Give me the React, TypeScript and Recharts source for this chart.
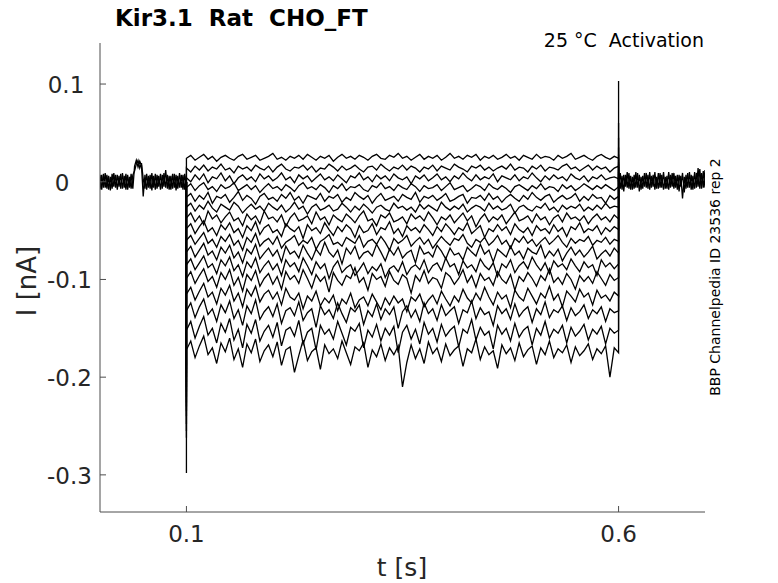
import { LineChart, Line, XAxis, YAxis } from 'recharts';

// all currents in pA, plotted in nA
const STEP_ON = 0.1;
const STEP_OFF = 0.6;
const BASE_DT = 0.002;

const xTicks = [0.1, 0.6];
const yTicks = [-0.3, -0.2, -0.1, 0, 0.1];

// holding current before the voltage step (t = 0 .. 0.1 s)
const preA = [
  7, -8, 8, -6, 7, -8, 5, -7, 9, -6, 7, -5, 8, -7, 6, -8, 7, -6, 8, -7,
  16, 22, 15, 21, 17, -15,
  7, -8, 6, -7, 9, -6, 8, -7, 6, -8, 7, -5, 12, -7, 6, -8, 8, -6, 7, -7, 9, -6, 7, -8, 6,
];
const preB = [
  -8, 7, -6, 9, -7, 6, -9, 8, -5, 7, -8, 6, -7, 9, -6, 8, -8, 5, -7, 7,
  11, 18, 22, 14, 19, 3,
  -7, 8, -6, 7, -9, 6, -8, 7, -5, 8, -7, 9, -6, 7, -8, 6, -7, 8, -9, 6, -6, 7, -8, 8, -5,
];

// tail current after the step (t = 0.6 .. 0.7 s)
const postA = [
  9, -7, 6, -10, 7, -6, 9, -8, 5, -7, 10, -6, 7, -8, 6, -5, 9, -7, 10, -6,
  7, -8, 5, -7, 9, -6, 10, -7, 6, -8, 7, -5, 9, -6, 7, -10, 6, -17, 5, -7,
  9, -6, 7, -8, 10, -6, 14, -7, 9, -6, 12,
];
const postB = [
  -6, 9, -8, 7, -5, 10, -7, 6, -8, 7, -6, 9, -10, 5, -7, 9, -6, 7, -8, 6,
  -5, 10, -7, 9, -6, 7, -8, 5, -7, 10, -6, 9, -7, 6, -8, 7, -5, 9, -11, 7,
  -6, 10, -8, 6, -7, 9, -5, 13, -7, 11, -6,
];

// capacitive peaks at step onset and offset, one per sweep
const onsetPeak = [-298, -262, -255, -248, -240, -235, -230, -226, -220, -215, -210, -205, -200, -196, -192, -188];
const offsetPeak = [103, 60, 45, 35, 28, 24, 20, 18, 15, 12, 10, 8, 6, 5, 4, 3];

// current during the step (t = 0.1 .. 0.6 s), one array per sweep
const sweeps = [
  [24, 27, 22, 25, 28, 23, 26, 21, 25, 27, 24, 22, 26, 28, 23, 25, 27, 22, 24, 26, 29, 23, 25, 22, 26, 24, 27, 23, 28, 25, 22, 26, 24, 27, 21, 25, 28, 24, 26, 23, 27, 25, 22, 26, 28, 24, 23, 27, 25, 29, 24, 26, 22, 25, 28, 23, 26, 24, 27, 22, 25, 29, 24, 26, 23, 27, 25, 28, 22, 26, 24, 27, 23, 25, 28, 24, 26, 22, 27, 25, 23, 28, 24, 26, 25, 22, 27, 24, 26, 29, 23, 25, 27, 24, 22, 26, 28, 25, 23, 26, 24],
  [14, 10, 16, 12, 17, 11, 15, 13, 18, 12, 14, 9, 16, 13, 15, 11, 17, 14, 12, 16, 10, 15, 18, 13, 11, 15, 14, 17, 12, 16, 10, 14, 13, 18, 15, 11, 16, 12, 14, 17, 13, 10, 15, 16, 12, 18, 14, 11, 15, 13, 17, 12, 16, 14, 10, 15, 13, 17, 11, 16, 14, 12, 18, 15, 13, 10, 16, 14, 17, 12, 15, 11, 14, 16, 13, 18, 12, 15, 14, 10, 16, 13, 17, 11, 15, 14, 12, 16, 18, 13, 15, 11, 14, 17, 12, 16, 13, 15, 10, 14, 16],
  [4, 0, 7, 2, 8, -1, 5, 3, 9, 1, 6, -2, 4, 7, 2, 5, 0, 8, 3, 6, 1, 4, 9, 2, 5, -1, 7, 3, 6, 0, 4, 8, 2, 5, 1, 7, 3, -1, 6, 4, 9, 2, 5, 0, 7, 3, 6, 1, 8, 4, 2, 5, -2, 6, 3, 7, 1, 4, 8, 2, 5, 0, 6, 3, 9, 4, 1, 7, 2, 5, 3, 8, 0, 6, 4, 2, 7, 1, 5, 3, 9, 4, 0, 6, 2, 7, 3, 5, 1, 8, 4, 2, 6, 0, 5, 3, 7, 2, 4, 5, 3],
  [-6, -2, -9, -4, -1, -8, -5, -10, -3, -7, -5, -1, -9, -6, -3, -8, -4, -11, -6, -2, -7, -5, -9, -3, -6, -10, -4, -1, -7, -5, -8, -3, -6, -11, -4, -7, -2, -9, -5, -6, -3, -8, -10, -4, -6, -1, -7, -5, -9, -3, -6, -8, -2, -5, -10, -4, -7, -6, -3, -9, -5, -1, -8, -6, -4, -10, -7, -3, -5, -9, -2, -6, -8, -4, -7, -11, -5, -3, -6, -9, -4, -7, -2, -8, -5, -6, -10, -3, -7, -4, -9, -6, -2, -5, -8, -4, -7, -3, -6, -9, -5],
  [-16, -12, -20, -14, -18, -11, -22, -15, -17, -13, -21, -16, -10, -19, -14, -17, -23, -15, -12, -18, -16, -20, -13, -17, -11, -19, -15, -22, -14, -16, -18, -12, -20, -15, -17, -13, -21, -16, -19, -11, -15, -18, -14, -22, -16, -12, -19, -17, -15, -20, -13, -16, -18, -11, -21, -15, -17, -14, -19, -16, -12, -20, -18, -15, -13, -22, -16, -17, -14, -19, -12, -18, -15, -21, -16, -13, -17, -20, -14, -18, -11, -16, -19, -15, -13, -21, -17, -14, -18, -16, -12, -20, -15, -19, -13, -17, -16, -22, -14, -18, -15],
  [-26, -22, -30, -24, -28, -20, -27, -31, -23, -26, -29, -21, -25, -32, -27, -23, -28, -25, -30, -22, -26, -29, -24, -31, -27, -21, -28, -25, -33, -26, -23, -29, -27, -24, -30, -28, -22, -26, -31, -25, -29, -23, -27, -32, -26, -24, -28, -30, -22, -27, -25, -29, -26, -31, -23, -28, -24, -27, -30, -21, -26, -29, -25, -28, -23, -31, -27, -24, -26, -30, -22, -28, -25, -29, -27, -23, -32, -26, -24, -28, -30, -25, -27, -22, -29, -26, -31, -24, -28, -25, -27, -23, -30, -26, -29, -24, -28, -22, -27, -25, -26],
  [-37, -32, -41, -35, -44, -30, -38, -34, -42, -36, -31, -40, -37, -45, -33, -39, -35, -43, -30, -38, -36, -41, -34, -46, -37, -32, -40, -38, -35, -43, -31, -39, -36, -44, -34, -38, -41, -33, -37, -42, -35, -30, -40, -38, -45, -34, -37, -32, -41, -39, -36, -43, -33, -38, -35, -40, -31, -37, -44, -36, -39, -34, -42, -37, -32, -40, -35, -46, -38, -33, -41, -36, -39, -34, -43, -37, -31, -40, -38, -35, -42, -33, -39, -36, -44, -37, -34, -41, -32, -38, -36, -40, -35, -43, -37, -33, -39, -36, -41, -34, -38],
  [-48, -43, -53, -46, -40, -51, -47, -55, -44, -49, -42, -52, -48, -57, -45, -50, -41, -54, -47, -44, -52, -49, -56, -43, -48, -51, -46, -58, -44, -50, -47, -53, -42, -49, -55, -46, -51, -44, -48, -57, -45, -52, -50, -43, -54, -47, -49, -41, -53, -48, -56, -45, -50, -47, -52, -44, -49, -55, -46, -51, -43, -48, -54, -47, -50, -42, -53, -49, -45, -57, -48, -51, -44, -50, -46, -54, -43, -49, -52, -47, -55, -45, -50, -48, -53, -44, -51, -47, -56, -46, -49, -42, -52, -48, -50, -45, -54, -47, -51, -46, -49],
  [-60, -55, -64, -58, -52, -63, -59, -67, -56, -61, -54, -65, -60, -70, -57, -62, -53, -66, -61, -58, -64, -56, -68, -62, -59, -55, -65, -60, -63, -57, -69, -61, -58, -54, -64, -62, -66, -57, -60, -63, -55, -67, -61, -59, -64, -56, -62, -70, -58, -63, -60, -55, -66, -61, -57, -64, -59, -68, -62, -56, -61, -65, -58, -60, -54, -63, -67, -59, -62, -57, -65, -61, -55, -64, -60, -68, -58, -62, -56, -63, -59, -66, -61, -57, -64, -60, -55, -62, -67, -58, -63, -59, -61, -56, -65, -60, -62, -57, -64, -59, -61],
  [-72, -66, -77, -70, -63, -75, -71, -80, -67, -73, -65, -78, -72, -83, -69, -74, -64, -79, -73, -68, -76, -70, -82, -66, -74, -71, -78, -65, -73, -80, -69, -75, -62, -72, -77, -70, -84, -68, -74, -66, -79, -73, -71, -76, -64, -72, -81, -69, -75, -67, -78, -73, -70, -83, -66, -74, -72, -77, -65, -71, -79, -68, -75, -73, -80, -67, -72, -76, -64, -74, -70, -82, -69, -73, -77, -66, -75, -71, -79, -68, -72, -74, -65, -78, -71, -76, -69, -81, -73, -67, -75, -70, -77, -72, -66, -79, -74, -70, -76, -68, -73],
  [-85, -79, -90, -83, -76, -88, -84, -94, -80, -86, -77, -91, -85, -97, -82, -88, -78, -93, -86, -81, -90, -84, -96, -80, -87, -83, -92, -78, -86, -95, -82, -89, -84, -99, -87, -81, -93, -88, -85, -96, -90, -83, -94, -87, -91, -84, -98, -89, -86, -92, -82, -95, -88, -85, -90, -80, -93, -86, -83, -91, -78, -87, -84, -95, -81, -88, -85, -92, -79, -86, -90, -83, -97, -84, -88, -80, -93, -86, -82, -89, -77, -85, -91, -83, -94, -81, -87, -84, -90, -79, -86, -92, -82, -88, -85, -96, -80, -87, -83, -89, -84],
  [-99, -92, -104, -96, -89, -102, -97, -108, -93, -100, -90, -106, -98, -112, -95, -101, -91, -107, -99, -94, -105, -97, -110, -92, -100, -96, -104, -90, -99, -109, -95, -102, -97, -113, -93, -101, -106, -96, -99, -88, -103, -98, -111, -94, -100, -97, -107, -92, -101, -105, -95, -99, -114, -96, -102, -91, -104, -98, -100, -109, -93, -97, -105, -99, -90, -103, -96, -108, -94, -101, -98, -106, -92, -100, -104, -95, -111, -97, -102, -93, -99, -107, -96, -101, -89, -103, -98, -105, -94, -100, -110, -96, -102, -97, -104, -92, -99, -106, -95, -101, -98],
  [-115, -108, -121, -112, -104, -118, -113, -125, -109, -116, -106, -122, -114, -128, -110, -117, -107, -123, -115, -111, -120, -113, -126, -109, -118, -121, -114, -130, -117, -122, -112, -127, -119, -124, -116, -132, -120, -125, -114, -129, -121, -118, -127, -115, -123, -131, -119, -126, -117, -124, -120, -133, -118, -122, -115, -128, -121, -116, -125, -112, -120, -127, -117, -123, -110, -119, -124, -114, -121, -108, -118, -126, -113, -120, -116, -129, -111, -118, -122, -109, -117, -125, -114, -119, -107, -121, -115, -128, -112, -117, -123, -110, -118, -114, -126, -111, -119, -116, -122, -113, -117],
  [-132, -124, -139, -128, -120, -136, -130, -143, -126, -134, -122, -140, -131, -147, -127, -135, -121, -141, -133, -128, -138, -125, -145, -132, -129, -137, -123, -142, -134, -130, -149, -127, -136, -131, -140, -124, -135, -144, -129, -133, -126, -146, -132, -138, -125, -141, -130, -136, -128, -150, -133, -127, -139, -131, -143, -124, -135, -130, -142, -126, -137, -132, -128, -145, -131, -134, -122, -140, -129, -136, -133, -147, -127, -135, -130, -141, -125, -138, -132, -128, -144, -130, -136, -123, -139, -131, -134, -127, -142, -129, -137, -133, -126, -140, -131, -135, -128, -143, -130, -134, -132],
  [-152, -143, -160, -148, -138, -157, -150, -165, -145, -154, -140, -162, -151, -170, -146, -155, -141, -163, -153, -147, -159, -144, -168, -152, -149, -158, -142, -166, -154, -150, -172, -147, -156, -151, -161, -143, -155, -167, -149, -153, -145, -170, -152, -159, -146, -163, -150, -157, -148, -175, -154, -147, -161, -151, -166, -144, -156, -150, -164, -146, -158, -152, -148, -169, -151, -155, -141, -162, -149, -157, -153, -171, -147, -156, -150, -163, -145, -159, -152, -148, -167, -150, -157, -143, -160, -151, -155, -147, -165, -149, -158, -153, -146, -162, -151, -156, -148, -166, -150, -155, -152],
  [-172, -163, -180, -168, -158, -177, -170, -186, -165, -174, -160, -182, -171, -190, -166, -175, -161, -184, -173, -167, -179, -164, -188, -172, -169, -195, -178, -162, -183, -174, -170, -192, -167, -176, -171, -181, -163, -175, -187, -169, -173, -165, -190, -172, -179, -166, -183, -170, -177, -168, -210, -185, -167, -181, -171, -186, -164, -176, -170, -184, -166, -178, -172, -168, -189, -171, -175, -161, -182, -169, -177, -173, -191, -167, -176, -170, -183, -165, -179, -172, -168, -187, -170, -177, -163, -180, -171, -175, -167, -185, -169, -178, -173, -166, -182, -171, -176, -168, -200, -170, -175],
];

type Pt = { t: number; v: number };

const baseSeries = (vals: number[], t0: number): Pt[] =>
  vals.map((v, i) => ({ t: t0 + i * BASE_DT, v: v / 1000 }));

const sweepSeries = (k: number): Pt[] => {
  const vals = sweeps[k];
  const dt = (STEP_OFF - STEP_ON) / (vals.length - 1);
  return [
    { t: STEP_ON, v: 0 },
    { t: STEP_ON, v: onsetPeak[k] / 1000 },
    ...vals.map((v, i) => ({ t: STEP_ON + i * dt, v: v / 1000 })),
    { t: STEP_OFF, v: offsetPeak[k] / 1000 },
    { t: STEP_OFF, v: 0 },
  ];
};

const traces: Pt[][] = [
  baseSeries(preA, 0),
  baseSeries(preB, 0),
  baseSeries(postA, STEP_OFF),
  baseSeries(postB, STEP_OFF),
  ...sweeps.map((_, k) => sweepSeries(k)),
];

const FONT = 'DejaVu Sans';
const AXIS = '#4d4d4d';
const TXT = '#262626';

const XTick = (props: any) => {
  const { x, y, payload } = props;
  return (
    <g>
      <line x1={x} x2={x} y1={y} y2={y - 6} stroke={AXIS} />
      <text x={x} y={y + 30} textAnchor="middle" fontSize={23} fontFamily={FONT} fill={TXT}>
        {String(payload.value)}
      </text>
    </g>
  );
};

// MATLAB places these labels a little unevenly; centre each one where it sits
const yLabelCentre = (s: string) => (s === '0' ? 62 : s.startsWith('-') ? 69.5 : 66);

const YTick = (props: any) => {
  const { x, y, payload } = props;
  const label = String(payload.value);
  return (
    <g>
      <line x1={x} x2={x + 6} y1={y} y2={y} stroke={AXIS} />
      <text x={yLabelCentre(label)} y={y + 9} textAnchor="middle" fontSize={23} fontFamily={FONT} fill={TXT}>
        {label}
      </text>
    </g>
  );
};

export default function App() {
  return (
    <div style={{ position: 'absolute', left: 0, top: 0, width: 778, height: 583, background: '#fff' }}>
      <LineChart width={778} height={583} margin={{ top: 43, right: 73, bottom: 31, left: 0 }}>
        <XAxis
          dataKey="t"
          type="number"
          domain={[0, 0.7]}
          ticks={xTicks}
          allowDataOverflow
          height={40}
          stroke={AXIS}
          tickSize={0}
          tickMargin={0}
          tick={<XTick />}
        />
        <YAxis
          dataKey="v"
          type="number"
          domain={[-0.338, 0.142]}
          ticks={yTicks}
          allowDataOverflow
          width={100}
          stroke={AXIS}
          tickSize={0}
          tickMargin={0}
          tick={<YTick />}
        />
        {traces.map((d, i) => (
          <Line
            key={i}
            data={d}
            dataKey="v"
            type="linear"
            stroke="#000"
            strokeWidth={1.3}
            dot={false}
            activeDot={false}
            isAnimationActive={false}
          />
        ))}
      </LineChart>
      <svg width={778} height={583} style={{ position: 'absolute', left: 0, top: 0, pointerEvents: 'none' }}>
        <g fontFamily={FONT}>
          <text x={115} y={26} fontSize={23} fontWeight="bold" fill="#000" xmlSpace="preserve">
            {'Kir3.1  Rat  CHO_FT'}
          </text>
          <text x={704} y={47} fontSize={19} textAnchor="end" fill="#000" xmlSpace="preserve">
            {'25 °C  Activation'}
          </text>
          <text x={720} y={277} fontSize={14} textAnchor="middle" fill="#000" transform="rotate(-90 720 277)">
            BBP Channelpedia ID 23536 rep 2
          </text>
          <text x={36} y={281} fontSize={26} textAnchor="middle" fill={TXT} transform="rotate(-90 36 281)">
            I [nA]
          </text>
          <text x={402} y={576} fontSize={25} textAnchor="middle" fill={TXT}>
            t [s]
          </text>
        </g>
      </svg>
    </div>
  );
}
